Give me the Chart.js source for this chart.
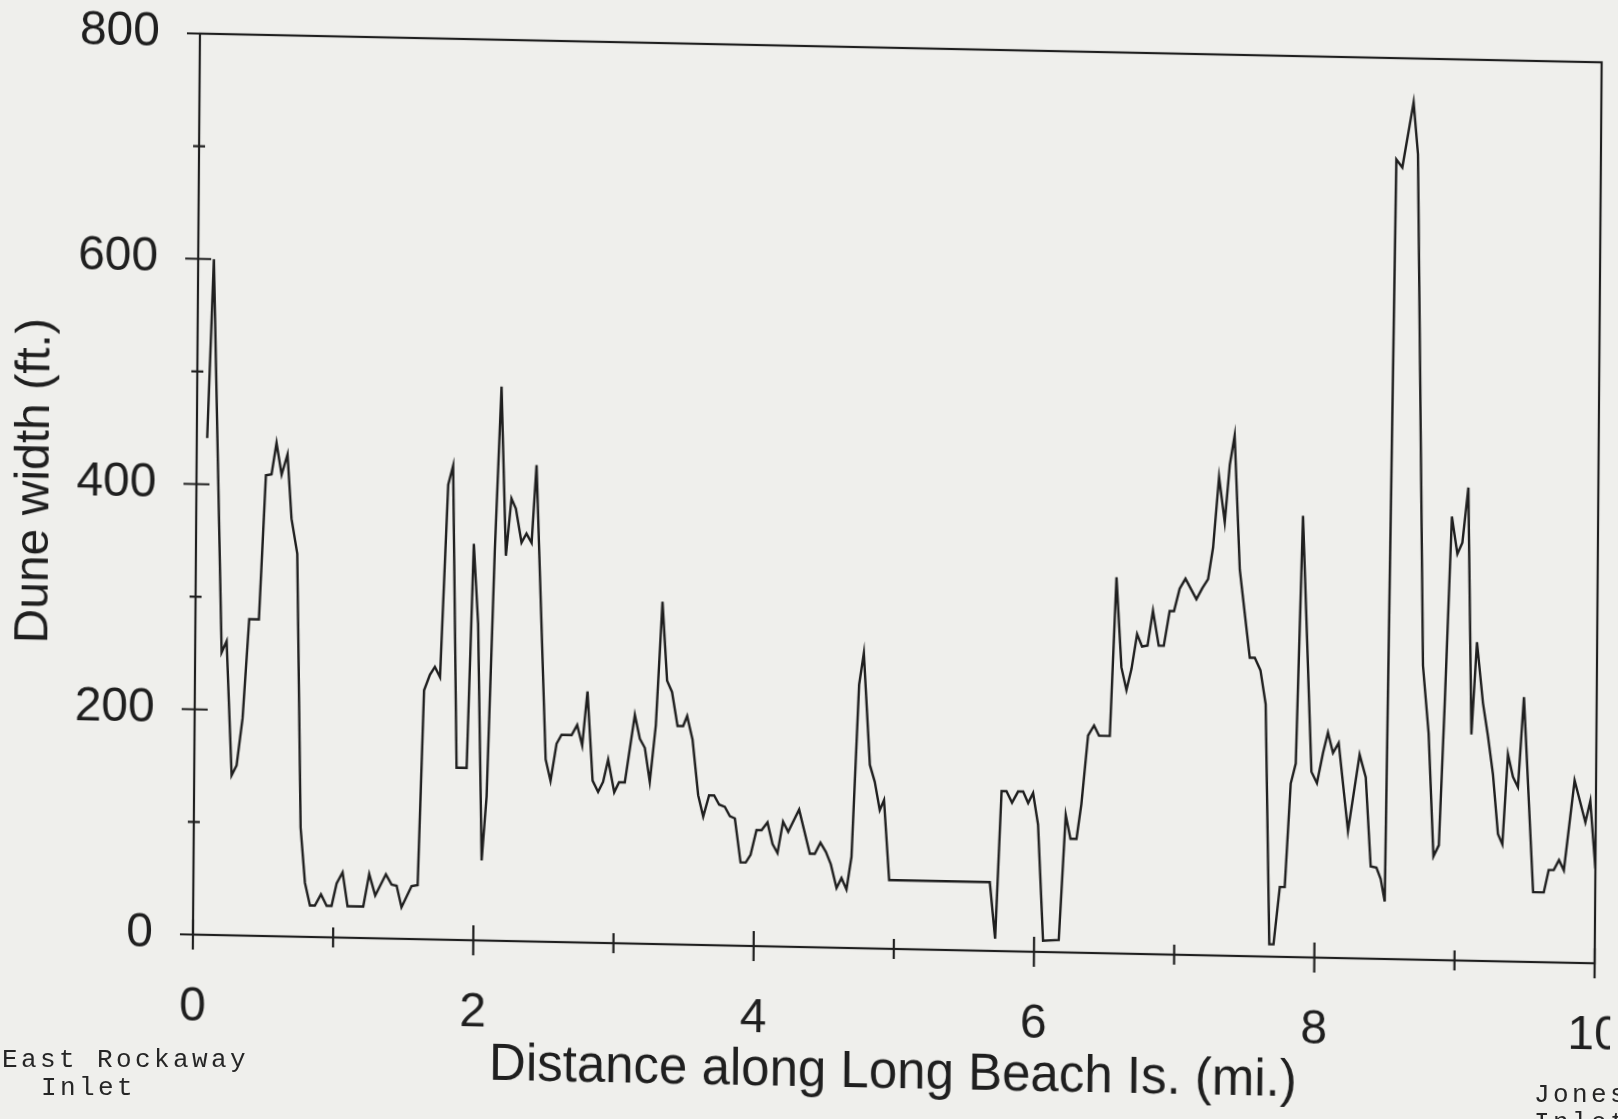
<!DOCTYPE html>
<html>
<head>
<meta charset="utf-8">
<title>Dune width along Long Beach Island</title>
<script src="https://cdn.jsdelivr.net/npm/chart.js@4.4.1/dist/chart.umd.min.js"></script>
<style>
  html, body { margin: 0; padding: 0; background: #efefec; overflow: hidden; }
  #page { position: relative; width: 1618px; height: 1119px; overflow: hidden; }
  /* the printed sheet sits slightly askew */
  #sheet { position: absolute; left: 0; top: 0; transform-origin: 0 0;
           transform: matrix(1, 0.0205, -0.00777, 1, 0.31, -10.5); }
  .place { position: absolute; font-family: "Liberation Mono", monospace; font-size: 26px;
           line-height: 28px; letter-spacing: 3.4px; color: #262626; white-space: pre; }
</style>
</head>
<body>
<div id="page">
  <div id="sheet"><canvas id="dune" width="1618" height="1119"></canvas></div>
  <div class="place" style="left:2px; top:1046px;">East Rockaway</div>
  <div class="place" style="left:41px; top:1074px;">Inlet</div>
  <div class="place" style="left:1534px; top:1081px;">Jones</div>
  <div class="place" style="left:1534px; top:1109px;">Inlet</div>
</div>
<script>
// distance from East Rockaway Inlet (mi.)
const distance = [
  0.074, 0.112, 0.189, 0.224, 0.267, 0.302, 0.342, 0.384, 0.453, 0.495,
  0.535, 0.569, 0.607, 0.648, 0.680, 0.723, 0.762, 0.796, 0.833, 0.868,
  0.911, 0.952, 0.987, 1.022, 1.064, 1.101, 1.213, 1.254, 1.298, 1.373,
  1.414, 1.450, 1.486, 1.557, 1.600, 1.635, 1.676, 1.711, 1.748, 1.796,
  1.830, 1.871, 1.943, 1.982, 2.017, 2.055, 2.087, 2.132, 2.171, 2.211,
  2.248, 2.280, 2.322, 2.357, 2.394, 2.425, 2.506, 2.542, 2.583, 2.618,
  2.690, 2.729, 2.766, 2.801, 2.842, 2.882, 2.917, 2.952, 2.997, 3.031,
  3.072, 3.140, 3.177, 3.213, 3.250, 3.290, 3.331, 3.368, 3.404, 3.445,
  3.485, 3.513, 3.553, 3.596, 3.633, 3.674, 3.710, 3.746, 3.787, 3.823,
  3.859, 3.902, 3.939, 3.973, 4.014, 4.050, 4.092, 4.129, 4.165, 4.203,
  4.240, 4.317, 4.396, 4.431, 4.471, 4.510, 4.546, 4.588, 4.623, 4.659,
  4.693, 4.738, 4.770, 4.819, 4.855, 4.892, 4.922, 4.963, 5.681, 5.722,
  5.760, 5.795, 5.835, 5.878, 5.914, 5.950, 5.985, 6.022, 6.064, 6.176,
  6.219, 6.254, 6.297, 6.330, 6.374, 6.416, 6.452, 6.529, 6.568, 6.608,
  6.645, 6.680, 6.718, 6.754, 6.793, 6.830, 6.873, 6.909, 6.949, 6.980,
  7.019, 7.060, 7.139, 7.181, 7.221, 7.255, 7.294, 7.337, 7.370, 7.403,
  7.447, 7.484, 7.523, 7.559, 7.600, 7.639, 7.678, 7.708, 7.750, 7.785,
  7.822, 7.857, 7.895, 7.969, 8.009, 8.051, 8.085, 8.122, 8.162, 8.233,
  8.312, 8.357, 8.397, 8.438, 8.469, 8.499, 8.541, 8.584, 8.661, 8.695,
  8.759, 8.803, 8.844, 8.882, 8.916, 8.957, 8.998, 9.033, 9.073, 9.108,
  9.143, 9.189, 9.226, 9.264, 9.303, 9.335, 9.370, 9.407, 9.443, 9.481,
  9.557, 9.633, 9.667, 9.703, 9.740, 9.775, 9.847, 9.926, 9.960, 10.0
];

// dune width (ft.)
const duneWidth = [
  441, 600, 251, 261, 142, 151, 193, 281, 281, 409,
  410, 438, 410, 428, 371, 340, 97, 48, 28, 28,
  38, 28, 28, 48, 58, 28, 28, 57, 38, 57,
  48, 47, 28, 47, 48, 221, 235, 242, 233, 404,
  421, 153, 153, 352, 281, 71, 128, 347, 492, 342,
  393, 384, 354, 362, 354, 423, 162, 143, 176, 184,
  184, 193, 175, 223, 144, 134, 143, 163, 134, 143,
  143, 203, 182, 174, 144, 194, 304, 234, 224, 194,
  194, 203, 182, 133, 114, 133, 133, 125, 123, 115,
  113, 74, 74, 81, 103, 103, 110, 91, 83, 111,
  102, 122, 83, 83, 93, 85, 74, 53, 62, 52,
  81, 234, 262, 163, 148, 123, 132, 61, 61, 11,
  142, 142, 132, 142, 142, 132, 141, 113, 10, 11,
  122, 101, 101, 132, 193, 202, 193, 193, 334, 254,
  234, 253, 284, 273, 274, 305, 274, 274, 305, 305,
  325, 334, 316, 326, 334, 362, 425, 385, 436, 462,
  343, 305, 265, 265, 254, 224, 11, 11, 62, 62,
  154, 172, 392, 165, 155, 182, 200, 182, 191, 113,
  181, 161, 82, 81, 71, 51, 710, 703, 761, 715,
  261, 201, 92, 102, 227, 394, 361, 371, 420, 201,
  283, 229, 200, 166, 113, 104, 184, 164, 155, 235,
  62, 62, 82, 82, 91, 82, 162, 125, 144, 84
];

// tick positions on the frame
const xMajor = [0, 2, 4, 6, 8, 10];
const xMinor = [1, 3, 5, 7, 9];
const yMajor = [0, 200, 400, 600, 800];
const yMinor = [100, 300, 500, 700];

const ink = '#1f1f1f';
const sans = "'Liberation Sans', Arial, sans-serif";

const points = distance.map((d, i) => ({ x: d, y: duneWidth[i] }));

// closed box with ticks crossing the axes
const boxTicks = {
  id: 'boxTicks',
  afterDatasetsDraw(chart) {
    const { ctx, chartArea: a, scales: { x, y } } = chart;
    ctx.save();
    ctx.strokeStyle = ink;
    ctx.lineWidth = 2.2;
    ctx.strokeRect(a.left, a.top, a.right - a.left, a.bottom - a.top);
    ctx.beginPath();
    xMajor.forEach(v => {
      const px = x.getPixelForValue(v);
      ctx.moveTo(px, a.bottom - 15); ctx.lineTo(px, a.bottom + 15);
    });
    xMinor.forEach(v => {
      const px = x.getPixelForValue(v);
      ctx.moveTo(px, a.bottom - 10); ctx.lineTo(px, a.bottom + 10);
    });
    yMajor.forEach(v => {
      const py = y.getPixelForValue(v);
      ctx.moveTo(a.left - 13, py); ctx.lineTo(a.left + 13, py);
    });
    yMinor.forEach(v => {
      const py = y.getPixelForValue(v);
      ctx.moveTo(a.left - 6, py); ctx.lineTo(a.left + 6, py);
    });
    ctx.stroke();
    ctx.restore();
  }
};

new Chart('dune', {
  type: 'line',
  data: {
    datasets: [{
      data: points,
      borderColor: ink,
      borderWidth: 2.4,
      pointRadius: 0,
      tension: 0,
      fill: false
    }]
  },
  options: {
    responsive: false,
    animation: false,
    layout: { padding: { left: 0, top: 40, right: 16, bottom: 0 } },
    plugins: { legend: { display: false }, tooltip: { enabled: false } },
    scales: {
      x: {
        type: 'linear',
        min: 0,
        max: 10,
        afterFit: s => { s.height = 178; s.paddingLeft = 0; s.paddingRight = 0; },
        grid: { display: false, drawTicks: false },
        border: { display: false },
        ticks: { stepSize: 2, padding: 44, color: ink, maxRotation: 0, font: { family: sans, size: 48 } },
        title: {
          display: true,
          text: 'Distance along Long Beach Is. (mi.)',
          color: ink,
          font: { family: sans, size: 51 },
          padding: { top: 0, bottom: 22 }
        }
      },
      y: {
        min: 0,
        max: 800,
        afterFit: s => { s.width = 200; s.paddingTop = 0; s.paddingBottom = 0; },
        grid: { display: false, drawTicks: false },
        border: { display: false },
        ticks: { stepSize: 200, padding: 40, color: ink, font: { family: sans, size: 48 } },
        title: {
          display: true,
          text: 'Dune width (ft.)',
          color: ink,
          font: { family: sans, size: 48 },
          padding: { top: 10, bottom: 0 }
        }
      }
    }
  },
  plugins: [boxTicks]
});
</script>
</body>
</html>
